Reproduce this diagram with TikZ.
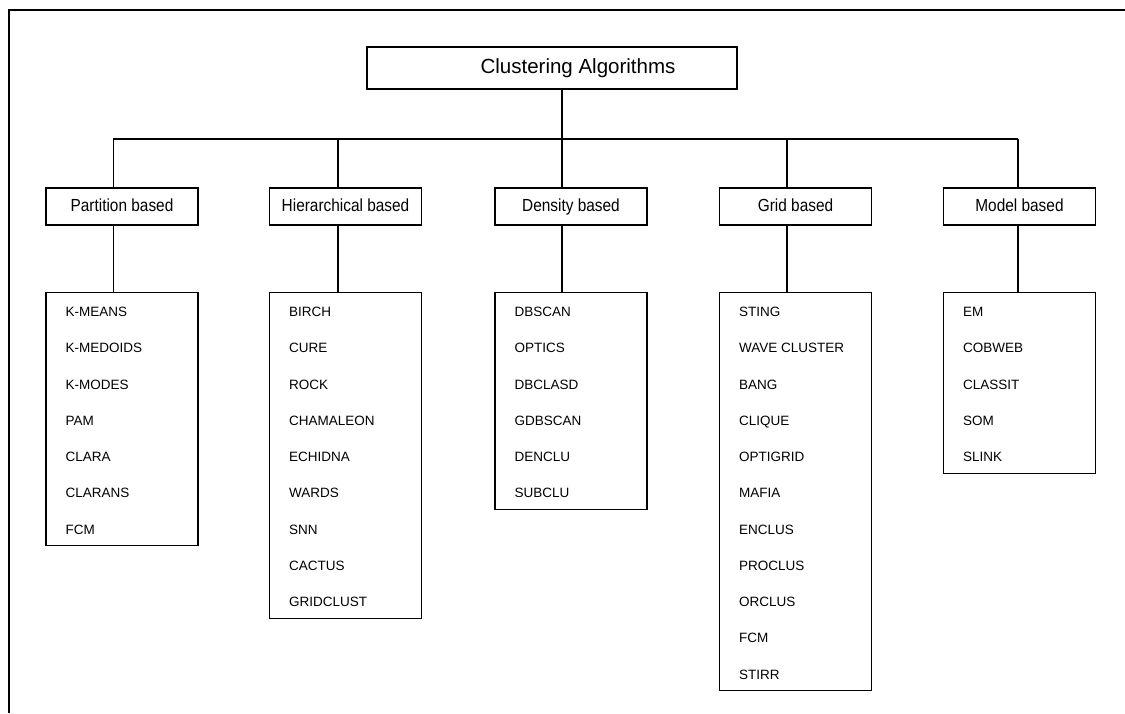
\documentclass[tikz,border=0pt]{standalone}
\usepackage{fontspec}
\setmainfont{Liberation Sans}
\newfontfamily\catfont[FakeStretch=0.88]{Liberation Sans}

\tikzset{
    catbox/.style={draw, line width=1.6pt, minimum width=152pt, minimum height=37pt, inner sep=0pt,
        text height=12.5pt, text depth=3.5pt, font=\catfont\fontsize{17.5}{20}\selectfont},
    listbox/.style={draw, line width=1.2pt, minimum width=152pt, inner sep=0pt, anchor=north},
    algo/.style={anchor=west, inner sep=0pt, text height=9.7pt, text depth=0pt,
        font=\fontsize{13.5}{16}\selectfont},
    wire/.style={line width=1.6pt},
}

\begin{document}
\begin{tikzpicture}[x=1pt, y=-1pt]
    \useasboundingbox (0,0) rectangle (1125,713);

    % Outer frame (only left and top edges show)
    \draw[line width=2.6pt] (9,713) -- (9,10) -- (1125,10);

    % Root box (title sits right of centre)
    \node[draw, line width=1.2pt, minimum width=370pt, minimum height=42pt, inner sep=0pt,
        text height=14.7pt, text depth=4.2pt,
        font=\fontsize{20.5}{24}\selectfont] (root) at (552,68) {\hspace*{52pt}Clustering Algorithms};

    % Category boxes
    \node[catbox] (pb) at (122,206.5) {Partition based};
    \node[catbox] (hb) at (345.5,206.5) {Hierarchical based};
    \node[catbox] (db) at (571,206.5) {Density based};
    \node[catbox] (gb) at (795.5,206.5) {Grid based};
    \node[catbox] (mb) at (1019.5,206.5) {Model based};

    % List boxes under each category
    \node[listbox, minimum height=253pt] (pl) at ([yshift=-66pt]pb.south) {};
    \node[listbox, minimum height=326pt] (hl) at ([yshift=-66pt]hb.south) {};
    \node[listbox, minimum height=217pt] (dl) at ([yshift=-66pt]db.south) {};
    \node[listbox, minimum height=398pt] (gl) at ([yshift=-66pt]gb.south) {};
    \node[listbox, minimum height=181pt] (ml) at ([yshift=-66pt]mb.south) {};

    % Algorithm names inside the lists
    \foreach \n/\items in {
        pl/{K-MEANS,K-MEDOIDS,K-MODES,PAM,CLARA,CLARANS,FCM},
        hl/{BIRCH,CURE,ROCK,CHAMALEON,ECHIDNA,WARDS,SNN,CACTUS,GRIDCLUST},
        dl/{DBSCAN,OPTICS,DBCLASD,GDBSCAN,DENCLU,SUBCLU},
        gl/{STING,WAVE CLUSTER,BANG,CLIQUE,OPTIGRID,MAFIA,ENCLUS,PROCLUS,ORCLUS,FCM,STIRR},
        ml/{EM,COBWEB,CLASSIT,SOM,SLINK}} {
        \foreach \a [count=\k from 0] in \items {
            \node[algo] (\n-\k) at ([xshift=20pt, yshift=-20pt-\k*36.25pt]\n.north west) {\a};
        }
    }

    % Bus line
    \coordinate (busL) at (113,139);
    \coordinate (busR) at (1018,139);
    \draw[wire] (busL) -- (busR);
    \draw[wire] ([xshift=10pt]root.south) -- ([xshift=10pt]root.south |- busL);

    % Stems: bus -> category -> list
    \foreach \n/\l/\dx in {pb/pl/-8.7, hb/hl/-7.5, db/dl/-9, gb/gl/-8.5, mb/ml/-1.5} {
        \draw[wire] ([xshift=\dx pt]\n.north) -- ([xshift=\dx pt]\n.north |- busL);
        \draw[wire] ([xshift=\dx pt]\n.south) -- ([xshift=\dx pt]\l.north);
    }
\end{tikzpicture}
\end{document}
